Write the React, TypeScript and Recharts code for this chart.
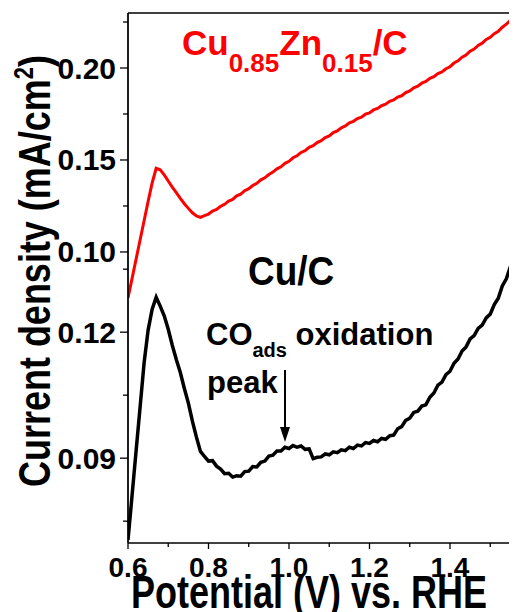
import { LineChart, Line, XAxis, YAxis, Customized } from 'recharts'

const potential = [
  0.6, 0.61, 0.62, 0.63, 0.64, 0.65, 0.66, 0.67, 0.68, 0.69,
  0.7, 0.71, 0.72, 0.73, 0.74, 0.75, 0.76, 0.77, 0.78, 0.79,
  0.8, 0.81, 0.82, 0.83, 0.84, 0.85, 0.86, 0.87, 0.88, 0.89,
  0.9, 0.91, 0.92, 0.93, 0.94, 0.95, 0.96, 0.97, 0.98, 0.99,
  1.0, 1.01, 1.02, 1.03, 1.04, 1.05, 1.06, 1.07, 1.08, 1.09,
  1.1, 1.11, 1.12, 1.13, 1.14, 1.15, 1.16, 1.17, 1.18, 1.19,
  1.2, 1.21, 1.22, 1.23, 1.24, 1.25, 1.26, 1.27, 1.28, 1.29,
  1.3, 1.31, 1.32, 1.33, 1.34, 1.35, 1.36, 1.37, 1.38, 1.39,
  1.4, 1.41, 1.42, 1.43, 1.44, 1.45, 1.46, 1.47, 1.48, 1.49,
  1.5, 1.51, 1.52, 1.53, 1.54, 1.55, 1.56, 1.566,
]

// Cu0.85Zn0.15/C, read against the upper (0.10 - 0.20) scale
const cuZnCurrent = [
  0.075, 0.0855, 0.096, 0.1065, 0.117, 0.1275, 0.1375, 0.1455, 0.1447, 0.1419,
  0.1386, 0.1353, 0.1322, 0.1291, 0.1262, 0.1237, 0.1213, 0.1196, 0.1188, 0.1197,
  0.1206, 0.1222, 0.1231, 0.1248, 0.1259, 0.1277, 0.1286, 0.1305, 0.1314, 0.1333,
  0.1344, 0.1361, 0.1373, 0.1392, 0.1403, 0.1421, 0.1434, 0.1452, 0.1463, 0.1482,
  0.1493, 0.1512, 0.1523, 0.1541, 0.1551, 0.1569, 0.1578, 0.1595, 0.1605, 0.1622,
  0.1631, 0.1649, 0.1658, 0.1675, 0.1685, 0.1702, 0.171, 0.1725, 0.1733, 0.1749,
  0.1756, 0.1772, 0.178, 0.1795, 0.1803, 0.1819, 0.1826, 0.1842, 0.1849, 0.1866,
  0.1875, 0.1892, 0.1901, 0.1918, 0.1927, 0.1944, 0.1953, 0.197, 0.1979, 0.1996,
  0.2007, 0.2027, 0.2039, 0.2059, 0.2071, 0.2091, 0.2103, 0.2123, 0.2135, 0.2155,
  0.2167, 0.2187, 0.2199, 0.2222, 0.2238, 0.226, 0.2276, 0.229,
]

// Cu/C, read against the lower (0.09 - 0.12) scale
const cuCurrent = [
  0.0705, 0.081, 0.0916, 0.1021, 0.1127, 0.1205, 0.1255, 0.1283, 0.1262, 0.1239,
  0.1207, 0.1169, 0.1135, 0.1104, 0.1066, 0.1031, 0.0988, 0.095, 0.0916, 0.0904,
  0.0893, 0.0894, 0.0881, 0.0874, 0.0863, 0.0864, 0.0855, 0.0858, 0.0857, 0.0868,
  0.0869, 0.088, 0.0879, 0.089, 0.0893, 0.0905, 0.0907, 0.0917, 0.0917, 0.0926,
  0.0923, 0.093, 0.0926, 0.0929, 0.0921, 0.0922, 0.0899, 0.0902, 0.0903, 0.091,
  0.0908, 0.0915, 0.0913, 0.092, 0.0918, 0.0926, 0.0923, 0.0931, 0.0929, 0.0937,
  0.0935, 0.0942, 0.0939, 0.0947, 0.0945, 0.0953, 0.0955, 0.097, 0.0975, 0.099,
  0.0995, 0.1009, 0.1012, 0.1024, 0.1027, 0.1045, 0.1055, 0.1074, 0.1081, 0.1099,
  0.1107, 0.1126, 0.1136, 0.1155, 0.1165, 0.1184, 0.1192, 0.1209, 0.1217, 0.1234,
  0.1243, 0.1266, 0.1281, 0.131, 0.1327, 0.1356, 0.1377, 0.1396,
]

const xTicks = [0.6, 0.7, 0.8, 0.9, 1.0, 1.1, 1.2, 1.3, 1.4, 1.5]
const xLabels = [0.6, 0.8, 1.0, 1.2, 1.4]
const upperTicks = [0.1, 0.125, 0.15, 0.175, 0.2, 0.225]
const upperLabels = [0.1, 0.15, 0.2]
const lowerTicks = [0.075, 0.09, 0.105, 0.12, 0.135]
const lowerLabels = [0.09, 0.12]

const rows = potential.map((v, i) => ({ v, cuzn: cuZnCurrent[i], cu: cuCurrent[i] }))

const FONT = '"Liberation Sans", Arial, sans-serif'
const has = (list: number[], v: number) => list.some((m) => Math.abs(m - v) < 1e-6)

function YTick(props: any) {
  const { x, y, payload, labels } = props
  const major = has(labels, payload.value)
  return (
    <g>
      <line x1={x - (major ? 8 : 5)} x2={x} y1={y} y2={y} stroke="#000" strokeWidth={1.3} />
      {major && (
        <text x={x - 12} y={y + 10.5} textAnchor="end" fontSize={30} fontWeight="bold" fontFamily={FONT} fill="#000">
          {payload.value.toFixed(2)}
        </text>
      )}
    </g>
  )
}

function XTick(props: any) {
  const { x, y, payload } = props
  const major = has(xLabels, payload.value)
  return (
    <g>
      <line x1={x} x2={x} y1={y} y2={y + (major ? 6 : 4)} stroke="#000" strokeWidth={1.3} />
      {major && (
        <text x={x} y={y + 34} textAnchor="middle" fontSize={28} fontWeight="bold" fontFamily={FONT} fill="#000">
          {payload.value.toFixed(1)}
        </text>
      )}
    </g>
  )
}

function Notes() {
  return (
    <g fontFamily={FONT} fontWeight="bold">
      <text x={174} y={47} fill="#ff0000" fontSize={35}>
        Cu<tspan fontSize={26} dy={17}>0.85</tspan>
        <tspan dy={-17}>Zn</tspan>
        <tspan fontSize={26} dy={17}>0.15</tspan>
        <tspan dy={-17}>/C</tspan>
      </text>
      <text transform="translate(240,277) scale(1,1.1)" fontSize={37} fill="#000">Cu/C</text>
      <text x={198} y={337} fontSize={31} fill="#000">
        CO<tspan fontSize={20} dy={12}>ads</tspan>
        <tspan dy={-12}> oxidation</tspan>
      </text>
      <text x={199} y={385} fontSize={31} fill="#000">peak</text>
      <line x1={277} x2={277} y1={362} y2={422} stroke="#000" strokeWidth={2} />
      <polygon points="272,419 282,419 277,434" fill="#000" />
      <text transform="translate(301,600) scale(1,1.27)" textAnchor="middle" fontSize={36} fill="#000">
        Potential (V) vs. RHE
      </text>
      <text transform="translate(42,263) rotate(-90) scale(1,1.25)" textAnchor="middle" fontSize={36} fill="#000">
        Current density (mA/cm<tspan fontSize={22} dy={-14}>2</tspan>
        <tspan dy={14}>)</tspan>
      </text>
    </g>
  )
}

export default function App() {
  return (
    <LineChart width={509} height={604} data={rows} margin={{ top: 0, right: 0, bottom: 0, left: 0 }}>
      <XAxis
        xAxisId="b"
        dataKey="v"
        type="number"
        domain={[0.6, 1.5665]}
        allowDataOverflow
        ticks={xTicks}
        interval={0}
        height={69}
        tickSize={0}
        tickMargin={0}
        tickLine={false}
        tick={(p: any) => <XTick {...p} />}
        axisLine={{ stroke: '#000', strokeWidth: 1.3 }}
      />
      <XAxis
        xAxisId="t"
        orientation="top"
        dataKey="v"
        type="number"
        domain={[0.6, 1.5665]}
        allowDataOverflow
        ticks={xTicks}
        interval={0}
        height={5}
        tickSize={4}
        tick={false}
        tickLine={{ stroke: '#000', strokeWidth: 1.3 }}
        axisLine={{ stroke: '#000', strokeWidth: 1.3 }}
      />
      {/* upper scale: thin mirrored axis on the plot's left edge; YTick draws its ticks outward */}
      <YAxis
        yAxisId="a"
        type="number"
        domain={[-0.0582, 0.2299]}
        allowDataOverflow
        ticks={upperTicks}
        interval={0}
        mirror
        width={1}
        tickSize={0}
        tickMargin={0}
        tickLine={false}
        tick={(p: any) => <YTick {...p} labels={upperLabels} />}
        axisLine={{ stroke: '#000', strokeWidth: 1.3 }}
      />
      <YAxis
        yAxisId="b"
        type="number"
        domain={[0.0698, 0.196]}
        allowDataOverflow
        ticks={lowerTicks}
        interval={0}
        width={120}
        tickSize={0}
        tickMargin={0}
        tickLine={false}
        tick={(p: any) => <YTick {...p} labels={lowerLabels} />}
        axisLine={{ stroke: '#000', strokeWidth: 1.3 }}
      />
      <Line
        xAxisId="b"
        yAxisId="a"
        type="linear"
        dataKey="cuzn"
        stroke="#ff0000"
        strokeWidth={3}
        dot={false}
        isAnimationActive={false}
      />
      <Line
        xAxisId="b"
        yAxisId="b"
        type="linear"
        dataKey="cu"
        stroke="#000"
        strokeWidth={3.5}
        dot={false}
        isAnimationActive={false}
      />
      <Customized component={Notes} />
    </LineChart>
  )
}
